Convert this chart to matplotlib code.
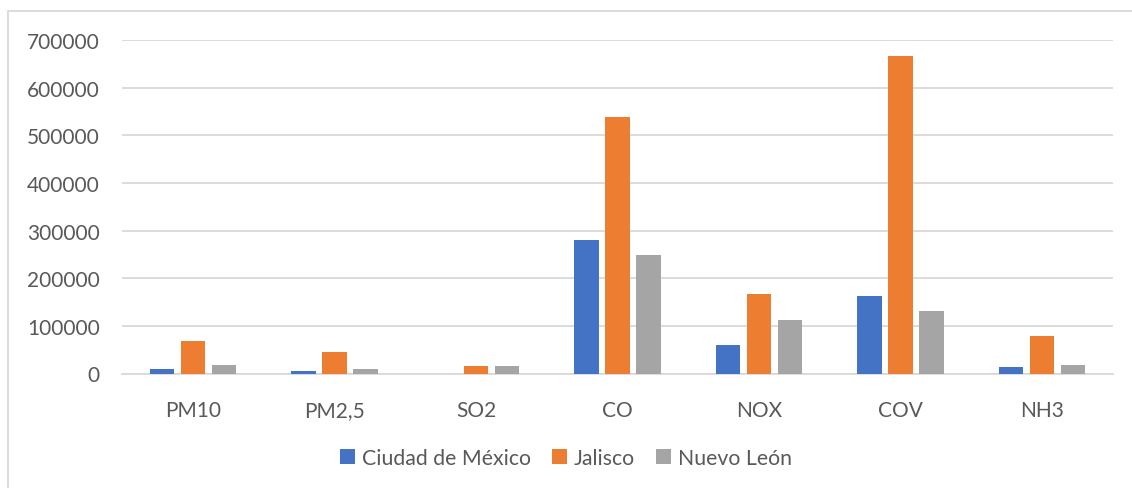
import numpy as np
import matplotlib.pyplot as plt
from matplotlib.patches import Rectangle

# emisiones por contaminante y estado
contaminantes = ["PM10", "PM2,5", "SO2", "CO", "NOX", "COV", "NH3"]
cdmx = [9500, 4600, 0, 280000, 60000, 162000, 13600]
jalisco = [67600, 45000, 16400, 539000, 166000, 666000, 78700]
nuevo_leon = [18500, 10000, 16400, 249000, 112000, 132000, 17800]

series = [("Ciudad de México", cdmx, "#4472C4"),
          ("Jalisco", jalisco, "#ED7D31"),
          ("Nuevo León", nuevo_leon, "#A5A5A5")]

plt.rcParams["font.family"] = ["Lato", "DejaVu Sans"]
texto = "#595959"
rejilla = "#D9D9D9"

fig = plt.figure(figsize=(11.32, 4.89), dpi=100)
ax = fig.add_axes([122/1132, 1 - 374.5/489, (1113 - 122)/1132, (374.5 - 41)/489])

# marco exterior del grafico
fig.patches.append(Rectangle((8/1132, -0.1), 1.2, 1 - 12/489 + 0.1,
                             transform=fig.transFigure, fill=False,
                             edgecolor=rejilla, linewidth=1.3))

x = np.arange(len(contaminantes))
ancho = 0.173
paso = 0.219
for i, (nombre, valores, color) in enumerate(series):
    ax.bar(x + (i - 1)*paso, valores, ancho, color=color, label=nombre, zorder=3)

ax.set_xlim(-0.5, len(contaminantes) - 0.5)
ax.set_ylim(0, 700000)
ax.set_yticks(np.arange(0, 700001, 100000))
ax.set_xticks(x)
ax.set_xticklabels(contaminantes)

ax.grid(axis="y", color=rejilla, linewidth=1.3, zorder=0)
for lado in ["top", "right", "left"]:
    ax.spines[lado].set_visible(False)
ax.spines["bottom"].set_color(rejilla)
ax.spines["bottom"].set_linewidth(1.3)
ax.tick_params(axis="both", length=0, labelsize=15, colors=texto)
ax.tick_params(axis="y", pad=16)
ax.tick_params(axis="x", pad=19)

leg = fig.legend(loc="center", bbox_to_anchor=(0.5, 1 - 459/489), ncol=3,
                 frameon=False, fontsize=15.3, handlelength=0.72, handleheight=0.72,
                 handletextpad=0.3, columnspacing=1.0)
for t in leg.get_texts():
    t.set_color(texto)

fig.savefig("out.png", dpi=100)
